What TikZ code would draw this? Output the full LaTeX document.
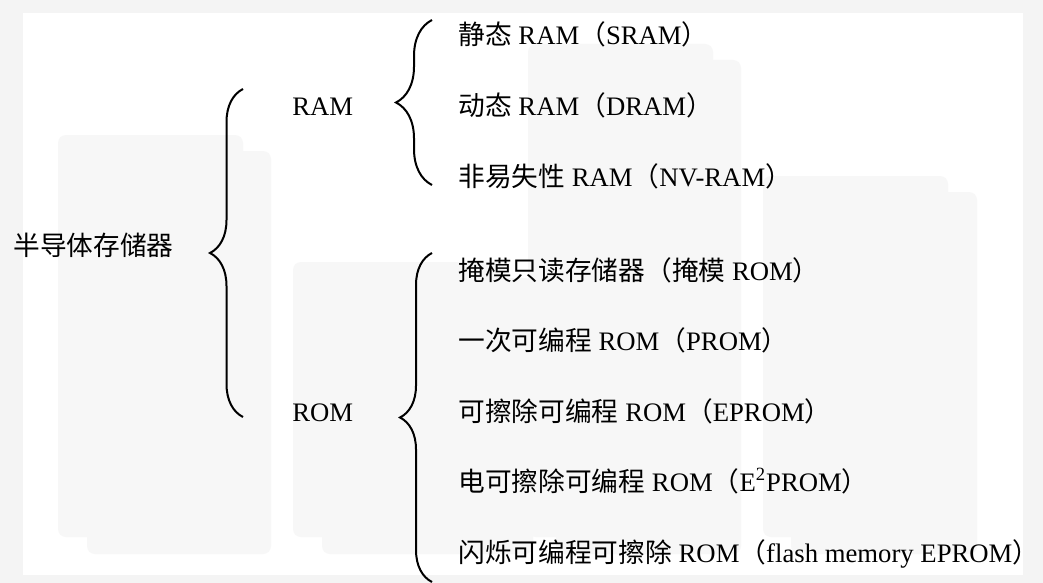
\documentclass[tikz,border=0pt]{standalone}
\usepackage{fontspec}
\setmainfont{Liberation Serif}
\newfontfamily\cjk{Noto Sans CJK SC}
\usetikzlibrary{decorations.pathreplacing}

\definecolor{pagegray}{HTML}{F4F4F4}
\definecolor{ghostgray}{HTML}{F7F7F7}
\newcommand{\zh}[1]{{\cjk #1}}

\begin{document}
\begin{tikzpicture}[
    x=0.5pt, y=-0.5pt,
    item/.style={anchor=base west, inner sep=0pt, font=\fontsize{13.35}{16}\selectfont},
    curly/.style={decorate, decoration={brace, mirror, amplitude=#1}, line width=1pt},
    ghost/.style={fill=ghostgray, rounded corners=4pt},
]
    \useasboundingbox (0,0) rectangle (1043,583);

    % page and faint patches of the scan
    \fill[pagegray] (0,0) rectangle (1043,583);
    \fill[white] (23,13) rectangle (1023,575);
    \fill[ghost] (58,135) rectangle (243,537);
    \fill[ghost] (87,151) rectangle (271,554);
    \fill[ghost] (293,262) rectangle (505,537);
    \fill[ghost] (322,278) rectangle (533,554);
    \fill[ghost] (528,44) rectangle (713,537);
    \fill[ghost] (556,60) rectangle (741,554);
    \fill[ghost] (763,176) rectangle (948,537);
    \fill[ghost] (791,192) rectangle (977,554);

    % tree
    \node[item] (semi) at (13,255) {\zh{半导体存储器}};
    \node[item] (ram) at (292,116) {RAM};
    \node[item] (rom) at (292,421) {ROM};

    \node[item] (sram) at (458,45) {\zh{静态} RAM\zh{（}SRAM\zh{）}};
    \node[item] (dram) at (458,116) {\zh{动态} RAM\zh{（}DRAM\zh{）}};
    \node[item] (nvram) at (458,186) {\zh{非易失性} RAM\zh{（}NV-RAM\zh{）}};
    \node[item] (maskrom) at (458,280) {\zh{掩模只读存储器（掩模} ROM\zh{）}};
    \node[item] (prom) at (458,350) {\zh{一次可编程} ROM\zh{（}PROM\zh{）}};
    \node[item] (eprom) at (458,421) {\zh{可擦除可编程} ROM\zh{（}EPROM\zh{）}};
    \node[item] (eeprom) at (458,491) {\zh{电可擦除可编程} ROM\zh{（}E\textsuperscript{2}PROM\zh{）}};
    \node[item] (flash) at (458,562) {\zh{闪烁可编程可擦除} ROM\zh{（}flash memory EPROM\zh{）}};

    % braces
    \coordinate (semitop) at (243,89);
    \coordinate (semibot) at (243,417);
    \coordinate (ramtop) at (432,20);
    \coordinate (rambot) at (432,185);
    \coordinate (romtop) at (432,253);
    \coordinate (rombot) at (432,582);

    \draw[curly=16.5pt] (semitop) -- (semibot);
    \draw[curly=18pt] (ramtop) -- (rambot);
    \draw[curly=16pt] (romtop) -- (rombot);

\end{tikzpicture}
\end{document}
